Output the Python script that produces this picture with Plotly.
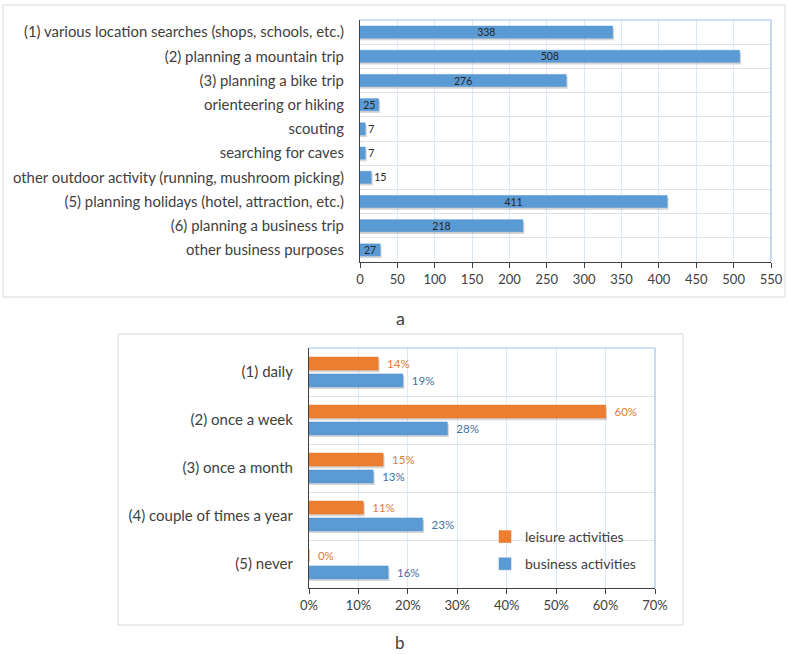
import plotly.graph_objects as go

W, H = 788, 654

# ---- chart a data ----
purposes = [
    "(1) various location searches (shops, schools, etc.)",
    "(2) planning a mountain trip",
    "(3) planning a bike trip",
    "orienteering or hiking",
    "scouting",
    "searching for caves",
    "other outdoor activity (running, mushroom picking)",
    "(5) planning holidays (hotel, attraction, etc.)",
    "(6) planning a business trip",
    "other business purposes",
]
counts = [338, 508, 276, 25, 7, 7, 15, 411, 218, 27]
x_ticks_a = [0, 50, 100, 150, 200, 250, 300, 350, 400, 450, 500, 550]

# ---- chart b data ----
frequency = ["(1) daily", "(2) once a week", "(3) once a month",
             "(4) couple of times a year", "(5) never"]
leisure = [14, 60, 15, 11, 0]
business = [19, 28, 13, 23, 16]
x_ticks_b = [0, 10, 20, 30, 40, 50, 60, 70]

FONT = "Lato"
TXT = "#404040"
BLUE = "#5B9BD5"
ORANGE = "#ED7D31"
SHADOW = "rgba(0,0,0,0.16)"

def px_x(p):
    return p / W

def px_y(p):
    return 1 - p / H

fig = go.Figure()

# ---------- chart a ----------
fig.add_trace(go.Bar(
    y=purposes, x=[v + 2 for v in counts], orientation="h",
    width=0.5, offset=-0.25 + 0.09, marker=dict(color=SHADOW, line=dict(width=0)),
    xaxis="x", yaxis="y", showlegend=False, hoverinfo="skip",
))
fig.add_trace(go.Bar(
    y=purposes, x=counts, orientation="h", width=0.5, offset=-0.25,
    marker=dict(color=BLUE, line=dict(color="#5393CE", width=0.5)),
    text=[str(v) for v in counts], textposition="auto", textangle=0,
    insidetextanchor="middle", constraintext="none",
    textfont=dict(family=FONT, size=10.5, color="#262626"),
    xaxis="x", yaxis="y", showlegend=False, cliponaxis=False,
))

# ---------- chart b ----------
BW = 0.27
OFF_L = -0.31
OFF_B = 0.04
fig.add_trace(go.Bar(
    y=frequency, x=[v + 0.3 if v > 0 else 0 for v in leisure], orientation="h",
    width=BW, offset=OFF_L + 0.045, marker=dict(color=SHADOW, line=dict(width=0)),
    xaxis="x2", yaxis="y2", showlegend=False, hoverinfo="skip",
))
fig.add_trace(go.Bar(
    y=frequency, x=[v + 0.3 for v in business], orientation="h",
    width=BW, offset=OFF_B + 0.045, marker=dict(color=SHADOW, line=dict(width=0)),
    xaxis="x2", yaxis="y2", showlegend=False, hoverinfo="skip",
))
fig.add_trace(go.Bar(
    y=frequency, x=leisure, orientation="h", name="leisure activities",
    width=BW, offset=OFF_L,
    marker=dict(color=ORANGE, line=dict(color="#E5762B", width=0.5)), legendgroup="l",
    text=["  %d%%" % v for v in leisure], textposition="outside", textangle=0,
    constraintext="none",
    textfont=dict(family=FONT, size=11.5, color="#E07B39"),
    xaxis="x2", yaxis="y2", cliponaxis=False,
))
fig.add_trace(go.Bar(
    y=frequency, x=business, orientation="h", name="business activities",
    width=BW, offset=OFF_B,
    marker=dict(color=BLUE, line=dict(color="#5393CE", width=0.5)), legendgroup="b",
    text=["  %d%%" % v for v in business], textposition="outside", textangle=0,
    constraintext="none",
    textfont=dict(family=FONT, size=11.5, color="#44729E"),
    xaxis="x2", yaxis="y2", cliponaxis=False,
))

shapes = [
    # outer frames
    dict(type="rect", xref="paper", yref="paper", x0=px_x(3), x1=px_x(785),
         y0=px_y(297), y1=px_y(5), line=dict(color="#D9D9D9", width=1), layer="below"),
    dict(type="rect", xref="paper", yref="paper", x0=px_x(118), x1=px_x(683),
         y0=px_y(625), y1=px_y(334), line=dict(color="#D9D9D9", width=1), layer="below"),
    # legend background (covers gridlines only)
    dict(type="rect", xref="paper", yref="paper", x0=px_x(505), x1=px_x(645),
         y0=px_y(577), y1=px_y(525), fillcolor="white", line=dict(width=0),
         layer="between"),
    # plot-area top/right borders
    dict(type="line", xref="paper", yref="paper", x0=px_x(360), x1=px_x(771),
         y0=px_y(20), y1=px_y(20), line=dict(color="#9DC3E6", width=1.2)),
    dict(type="line", xref="paper", yref="paper", x0=px_x(771), x1=px_x(771),
         y0=px_y(262), y1=px_y(20), line=dict(color="#9DC3E6", width=1.2)),
    dict(type="line", xref="paper", yref="paper", x0=px_x(309), x1=px_x(655),
         y0=px_y(348), y1=px_y(348), line=dict(color="#9DC3E6", width=1.2)),
    dict(type="line", xref="paper", yref="paper", x0=px_x(655), x1=px_x(655),
         y0=px_y(588), y1=px_y(348), line=dict(color="#9DC3E6", width=1.2)),
]

fig.update_layout(
    width=W, height=H, margin=dict(l=0, r=0, t=0, b=0, autoexpand=False),
    paper_bgcolor="white", plot_bgcolor="white",
    font=dict(family=FONT, color=TXT),
    barmode="overlay",
    shapes=shapes,
    xaxis=dict(domain=[px_x(360), px_x(771)], anchor="y", range=[0, 550],
               tickvals=x_ticks_a, showgrid=True, gridcolor="#DDEBF7",
               showline=True, linecolor="#404040", linewidth=1.2,
               ticks="outside", ticklen=5, tickcolor="#404040", automargin=False,
               tickfont=dict(size=13, color=TXT), zeroline=False),
    yaxis=dict(domain=[px_y(262), px_y(20)], anchor="x", type="category",
               autorange="reversed", tickson="boundaries", showgrid=True,
               gridcolor="#E3E3E3", showline=True, linecolor="#404040",
               linewidth=1.2, ticks="", ticklabelstandoff=12, automargin=False,
               tickfont=dict(size=14.9, color=TXT)),
    xaxis2=dict(domain=[px_x(309), px_x(655)], anchor="y2", range=[0, 70],
                tickvals=x_ticks_b, ticktext=["%d%%" % v for v in x_ticks_b],
                showgrid=True, gridcolor="#DDEBF7", automargin=False,
                showline=True, linecolor="#404040", linewidth=1.2,
                ticks="outside", ticklen=5, tickcolor="#404040",
                tickfont=dict(size=13, color=TXT), zeroline=False),
    yaxis2=dict(domain=[px_y(588), px_y(348)], anchor="x2", type="category",
                autorange="reversed", tickson="boundaries", showgrid=True,
                gridcolor="#E3E3E3", showline=True, linecolor="#404040",
                linewidth=1.2, ticks="", ticklabelstandoff=12, automargin=False,
                tickfont=dict(size=15, color=TXT)),
    legend=dict(x=px_x(485), y=px_y(521), xanchor="left", yanchor="top",
                bgcolor="rgba(0,0,0,0)", font=dict(size=14, color=TXT),
                traceorder="grouped", tracegroupgap=6, itemwidth=30),
    annotations=[
        dict(text="a", x=px_x(400), y=px_y(318), xref="paper", yref="paper",
             yanchor="middle", showarrow=False, font=dict(size=18, color=TXT)),
        dict(text="b", x=px_x(400), y=px_y(642), xref="paper", yref="paper",
             yanchor="middle", showarrow=False, font=dict(size=17, color=TXT)),
    ],
)

fig.write_html("out.html", config={"displayModeBar": False},
               post_script="document.body.style.margin='0';"
                           "document.body.style.overflow='hidden';")
